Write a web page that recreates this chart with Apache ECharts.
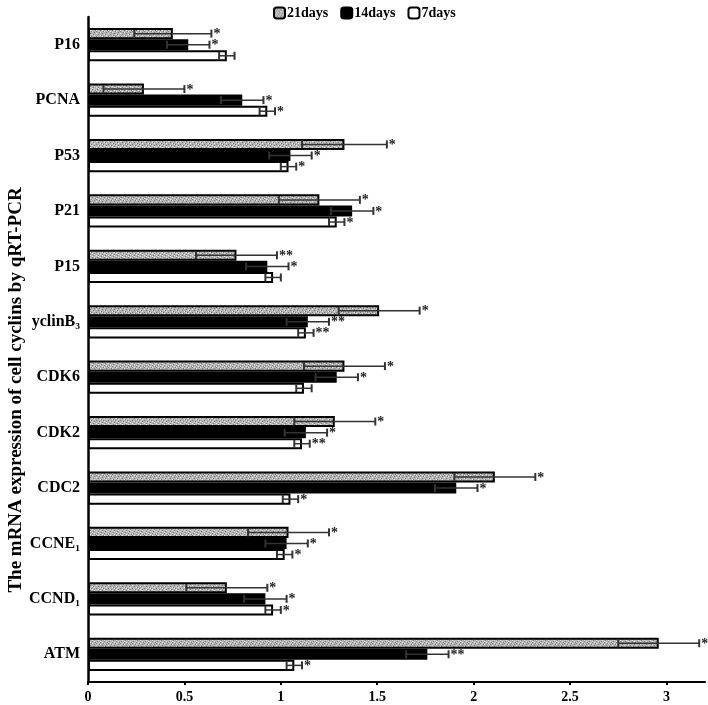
<!DOCTYPE html>
<html>
<head>
<meta charset="utf-8">
<script src="https://cdn.jsdelivr.net/npm/echarts@6/dist/echarts.min.js"></script>
<style>html,body{margin:0;padding:0;background:#fff;}#c{width:708px;height:705px;}</style>
</head>
<body>
<div id="c"></div>
<script>
// Categories listed bottom to top (category axis starts at the bottom)
const categories = ['ATM', 'CCND\u2081', 'CCNE\u2081', 'CDC2', 'CDK2', 'CDK6', 'yclinB\u2083', 'P15', 'P21', 'P53', 'PCNA', 'P16'];
const seriesNames = ['21days', '14days', '7days'];
const values21 = [2.96, 0.72, 1.04, 2.11, 1.28, 1.33, 1.51, 0.77, 1.20, 1.33, 0.29, 0.44];
const errors21 = [0.21, 0.21, 0.21, 0.21, 0.21, 0.21, 0.21, 0.21, 0.21, 0.22, 0.21, 0.20];
const sig21 = ['*', '*', '*', '*', '*', '*', '*', '**', '*', '*', '*', '*'];
const values14 = [1.76, 0.92, 1.03, 1.91, 1.13, 1.29, 1.14, 0.93, 1.37, 1.05, 0.80, 0.52];
const errors14 = [0.11, 0.11, 0.11, 0.11, 0.11, 0.11, 0.11, 0.11, 0.11, 0.11, 0.11, 0.11];
const sig14 = ['**', '*', '*', '*', '*', '*', '**', '*', '*', '*', '*', '*'];
const values7 = [1.07, 0.96, 1.02, 1.05, 1.11, 1.12, 1.13, 0.96, 1.29, 1.04, 0.93, 0.72];
const errors7 = [0.04, 0.04, 0.04, 0.04, 0.04, 0.04, 0.04, 0.04, 0.04, 0.04, 0.04, 0.04];
const sig7 = ['*', '*', '*', '*', '**', '', '**', '', '*', '*', '*', ''];
const xTicks = [0, 0.5, 1, 1.5, 2, 2.5, 3];
const yTitle = 'The mRNA expression of cell cyclins by qRT-PCR';

const FONT = '"Liberation Serif", "Times New Roman", serif';

// grey speckled texture for the 21days bars
const pc = document.createElement('canvas');
pc.width = 12; pc.height = 12;
const pctx = pc.getContext('2d');
pctx.fillStyle = '#b4b4b4';
pctx.fillRect(0, 0, 12, 12);
for (let y = 0; y < 12; y++) {
  for (let x = 0; x < 12; x++) {
    if ((x * 3 + y * 5) % 7 === 0) { pctx.fillStyle = '#7a7a7a'; pctx.fillRect(x, y, 1, 1); }
    else if ((x * 5 + y * 2) % 6 === 0) { pctx.fillStyle = '#e2e2e2'; pctx.fillRect(x, y, 1, 1); }
  }
}
const texture = { image: pc, repeat: 'repeat' };

const chart = echarts.init(document.getElementById('c'), null, { renderer: 'canvas' });

const groups = [
  { name: '21days', vals: values21, errs: errors21, sig: sig21, color: texture },
  { name: '14days', vals: values14, errs: errors14, sig: sig14, color: '#000000' },
  { name: '7days', vals: values7, errs: errors7, sig: sig7, color: '#ffffff' }
];

function makeRender(pos, sigArr) {
  return function (params, api) {
    const v = api.value(0), c = api.value(1), e = api.value(2);
    const band = api.size([0, 1])[1];
    const bw = band * 0.2;
    const dy = (pos - 1) * bw;
    const p0 = api.coord([v - e, c]);
    const p1 = api.coord([v + e, c]);
    const y = p0[1] + dy;
    const h = 4;
    const st = { stroke: '#333', lineWidth: 1.5 };
    return {
      type: 'group',
      children: [
        { type: 'line', shape: { x1: p0[0], y1: y, x2: p1[0], y2: y }, style: st },
        { type: 'line', shape: { x1: p0[0], y1: y - h, x2: p0[0], y2: y + h }, style: { stroke: '#333', lineWidth: 2 } },
        { type: 'line', shape: { x1: p1[0], y1: y - h, x2: p1[0], y2: y + h }, style: { stroke: '#333', lineWidth: 2 } },
        { type: 'text', style: { text: sigArr[params.dataIndex], x: p1[0] + 2, y: y + 1, verticalAlign: 'middle', align: 'left', font: 'bold 14px ' + FONT, fill: '#222' } }
      ]
    };
  };
}

const series = [];
groups.forEach((g, i) => {
  series.push({
    name: g.name,
    type: 'bar',
    data: g.vals,
    barGap: '0%',
    barCategoryGap: '40%',
    itemStyle: { color: g.color, borderColor: '#000', borderWidth: 2 },
    emphasis: { disabled: true },
    animation: false
  });
});
groups.forEach((g, i) => {
  series.push({
    name: 'err' + g.name,
    type: 'custom',
    renderItem: makeRender(i, g.sig),
    encode: { x: 0, y: 1 },
    data: g.vals.map((v, k) => [v, k, g.errs[k]]),
    z: 10,
    silent: true,
    animation: false
  });
});

chart.setOption({
  animation: false,
  backgroundColor: '#ffffff',
  legend: {
    data: seriesNames,
    top: 1,
    left: 268,
    itemWidth: 11,
    itemHeight: 11,
    itemGap: 12,
    textStyle: { fontFamily: FONT, fontWeight: 'bold', fontSize: 14, color: '#000', padding: [0, 0, 0, -3] }
  },
  graphic: [{
    type: 'text',
    x: 16,
    y: 390,
    rotation: Math.PI / 2,
    style: { text: yTitle, font: 'bold 19px ' + FONT, fill: '#000', align: 'center', verticalAlign: 'middle' }
  }],
  grid: { left: 88, right: 3, top: 17, bottom: 23, containLabel: false, outerBoundsMode: 'none' },
  xAxis: {
    type: 'value',
    min: 0,
    max: 3.2,
    interval: 0.5,
    axisLine: { show: true, lineStyle: { color: '#000', width: 2 } },
    axisTick: { show: true, length: 3, lineStyle: { color: '#000', width: 2 } },
    splitLine: { show: false },
    axisLabel: {
      fontFamily: FONT, fontWeight: 'bold', fontSize: 14, color: '#000', margin: 8,
      showMaxLabel: false,
      formatter: function (v) { return xTicks.indexOf(Math.round(v * 100) / 100) >= 0 ? String(v) : ''; }
    }
  },
  yAxis: {
    type: 'category',
    data: categories,
    axisLine: { show: true, lineStyle: { color: '#000', width: 2.5 } },
    axisTick: { show: false },
    axisLabel: { fontFamily: FONT, fontWeight: 'bold', fontSize: 16, color: '#000', margin: 8 },
    splitLine: { show: false }
  },
  series: series
});
</script>
</body>
</html>
